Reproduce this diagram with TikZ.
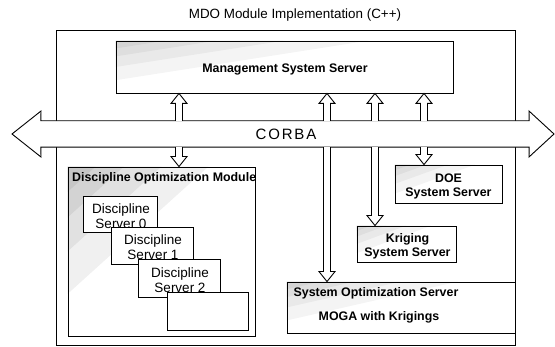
\documentclass[tikz,border=0pt]{standalone}
\usepackage{fontspec}
\setmainfont{Liberation Sans}
\usetikzlibrary{fit,calc}
\newcommand\harrow[3]{%
  \draw[harr] ($(#1)+(-3.5,0)$) -- ($(#2)+(-3.5,#3)$) -- ($(#2)+(-8,#3)$) -- (#2)
    -- ($(#2)+(8,#3)$) -- ($(#2)+(3.5,#3)$) -- ($(#1)+(3.5,0)$);}
\newcommand\boxshade[2]{%
  \foreach \k in {0.15,0.3,0.5,0.75}
    \fill[black, opacity=#2] (#1.north west)
      -- ($(#1.north west)!\k!(#1.north east)$)
      -- ($(#1.north west)!\k!(#1.south west)$) -- cycle;}
\begin{document}
\begin{tikzpicture}[x=1pt,y=-1pt,
  box/.style={draw, fill=white, inner sep=0pt, line width=0.9pt},
  bfs/.style={font=\fontsize{12.4}{14}\selectfont\bfseries, inner sep=0pt, align=center},
  rgs/.style={font=\fontsize{13.5}{15}\selectfont, inner sep=0pt, align=center},
  harr/.style={draw, fill=white, line width=0.9pt, line join=miter}]
\useasboundingbox (0,0) rectangle (555,347);

\node[font=\fontsize{13.4}{15}\selectfont] (title) at (295,15) {MDO Module Implementation (C++)};

% outer frame
\node[box, fit={(56,30) (515,345)}] (outer) {};

% management system server
\node[box, fit={(116,41) (453,93)}] (mss) {};
\boxshade{mss}{0.045}
\node[bfs] (msst) at (285,69) {Management System Server};

% CORBA bus
\node[inner sep=0pt, fit={(41,121) (529,147)}] (bus) {};
\coordinate (lh1) at (41,111);
\coordinate (ltip) at (12,134);
\coordinate (lh2) at (41,157);
\coordinate (rh1) at (529,111);
\coordinate (rtip) at (554,134);
\coordinate (rh2) at (529,157);
\draw[box] (bus.north west) -- (lh1) -- (ltip) -- (lh2) -- (bus.south west)
  -- (bus.south east) -- (rh2) -- (rtip) -- (rh1) -- (bus.north east) -- cycle;
\node[font=\fontsize{15}{17}\selectfont\addfontfeature{LetterSpace=12}] (corba) at (286,134) {CORBA};

% discipline optimization module
\node[box, fit={(68,167) (255,336)}] (dom) {};
\boxshade{dom}{0.06}
\node[bfs, anchor=west] (domt) at (72,178) {Discipline Optimization Module};
\node[box, fit={(83,196) (157,232)}] (ds0) {};
\node[rgs] (ds0t) at ($(ds0)+(1,2)$) {Discipline\\Server 0};
\node[box, fit={(111,227) (193,264)}] (ds1) {};
\node[rgs] (ds1t) at ($(ds1)+(1,2)$) {Discipline\\Server 1};
\node[box, fit={(138,259) (220,297)}] (ds2) {};
\node[rgs] (ds2t) at ($(ds2)+(1,2)$) {Discipline\\Server 2};
\node[box, fit={(167,292) (248,330)}] (ds3) {};

% servers
\node[box, fit={(395,165) (502,203)}] (doe) {};
\boxshade{doe}{0.045}
\node[bfs] (doet) at ($(doe)+(0,2)$) {DOE\\System Server};
\node[box, fit={(357,226) (456,262)}] (krig) {};
\boxshade{krig}{0.045}
\node[bfs] (krigt) at ($(krig)+(1,2)$) {Kriging\\System Server};
\node[box, fit={(287,282) (515,333)}] (sos) {};
\boxshade{sos}{0.045}
\node[bfs] (sost1) at (376,293) {System Optimization Server};
\node[bfs] (sost2) at (379,317) {MOGA with Krigings};

% connector end points
\coordinate (a1) at (179,0 |- bus.north);
\coordinate (a2) at (327,0 |- bus.north);
\coordinate (a3) at (375,0 |- bus.north);
\coordinate (a4) at (424,0 |- bus.north);
\coordinate (m1) at (179,0 |- mss.south);
\coordinate (m2) at (327,0 |- mss.south);
\coordinate (m3) at (375,0 |- mss.south);
\coordinate (m4) at (424,0 |- mss.south);
\coordinate (b1) at (179,0 |- bus.south);
\coordinate (b2) at (327,0 |- bus.south);
\coordinate (b3) at (375,0 |- bus.south);
\coordinate (b4) at (424,0 |- bus.south);
\coordinate (d1) at (179,0 |- dom.north);
\coordinate (d2) at (327,0 |- sos.north);
\coordinate (d3) at (375,0 |- krig.north);
\coordinate (d4) at (424,0 |- doe.north);

\harrow{a1}{m1}{10}
\harrow{a2}{m2}{10}
\harrow{a3}{m3}{10}
\harrow{a4}{m4}{10}
\harrow{b1}{d1}{-10}
\harrow{b2}{d2}{-10}
\harrow{b3}{d3}{-10}
\harrow{b4}{d4}{-10}
\end{tikzpicture}
\end{document}
